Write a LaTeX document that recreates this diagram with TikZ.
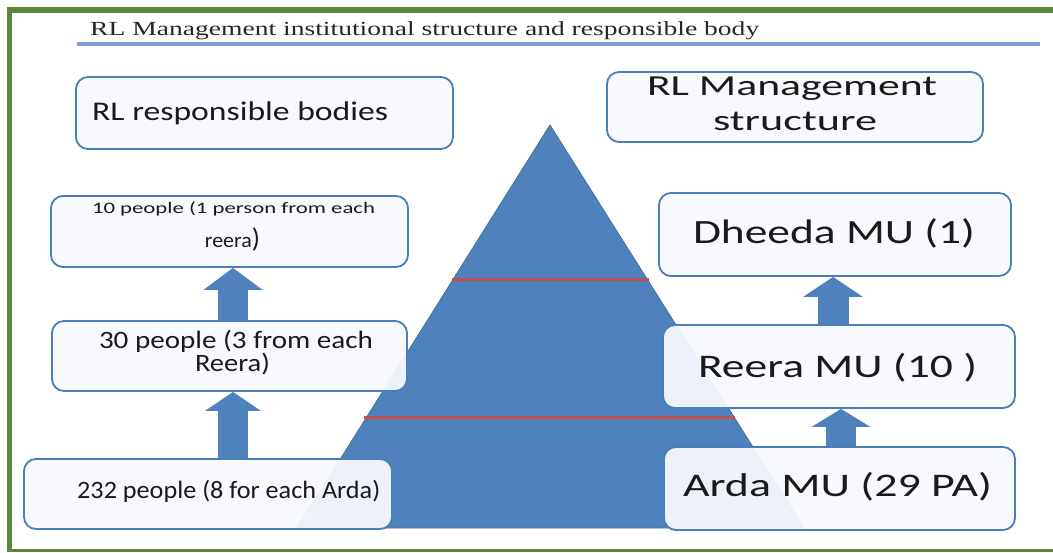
\documentclass[tikz,border=0pt]{standalone}
\usepackage{fontspec}
\usepackage{graphicx}
\usetikzlibrary{calc,arrows.meta}
\setmainfont{Liberation Serif}
\newfontfamily\boxfont{Carlito}
\definecolor{framegreen}{HTML}{578737}
\definecolor{titleline}{HTML}{7D9FD6}
\definecolor{pyrblue}{HTML}{4F81BD}
\definecolor{pyredge}{HTML}{41719C}
\definecolor{redline}{HTML}{C0504D}
\definecolor{boxedge}{HTML}{4A7EBB}
\definecolor{boxfill}{HTML}{F7F9FD}
\definecolor{txt}{HTML}{1A1A1A}
\newsavebox\fitbox
\newcommand\fitw[2]{\sbox\fitbox{#2}\pgfmathsetmacro\fitr{#1/\the\wd\fitbox}\scalebox{\fitr}[1]{\usebox\fitbox}}
\tikzset{
  rbox/.style={draw=boxedge, line width=1.8pt, rounded corners=12pt, fill=boxfill, fill opacity=0.94, inner sep=0pt},
  btext/.style={inner sep=0pt, text=txt, font=\boxfont},
  uparrow/.style={draw=pyrblue, line width=#1, line cap=butt},
}
\begin{document}
\begin{tikzpicture}[x=1pt,y=-1pt]
\useasboundingbox (0,0) rectangle (1053,552);
\fill[white] (0,0) rectangle (1053,552);
% frame
\fill[framegreen] (7,7) rectangle (1053,13);
\fill[framegreen] (7,7) rectangle (12,552);
\fill[framegreen] (7,549) rectangle (1053,552);
% title
\node[inner sep=0pt, anchor=base west, text=black!85] (title) at (90,35)
  {\fitw{669}{\fontsize{20}{20}\selectfont RL Management institutional structure and responsible body}};
\draw[titleline, line width=4.5pt] (77,44) coordinate (tl1) -- (1040,44) coordinate (tl2);
% pyramid
\coordinate (apex) at (550,125);
\coordinate (bl) at (297,528);
\coordinate (br) at (804,528);
\filldraw[fill=pyrblue, draw=pyredge, line width=0.8pt] (apex) -- (br) -- (bl) -- cycle;
\draw[redline, line width=3pt] (452,279) coordinate (r1a) -- (649,279) coordinate (r1b);
\draw[redline, line width=3pt] (364,417) coordinate (r2a) -- (735,417) coordinate (r2b);
% left boxes
\node[rbox, minimum width=377pt, minimum height=72pt] (b1) at (264.5,113) {};
\node[rbox, minimum width=357pt, minimum height=71pt] (b2) at (229.5,231.5) {};
\node[rbox, minimum width=355pt, minimum height=70pt] (b3) at (229.5,356) {};
\node[rbox, minimum width=368pt, minimum height=70pt] (b4) at (208,494) {};
% right boxes
\node[rbox, minimum width=376pt, minimum height=70pt] (r0) at (795,107) {};
\node[rbox, minimum width=352pt, minimum height=83pt] (r1) at (835,234.5) {};
\node[rbox, minimum width=352pt, minimum height=83pt] (r2) at (839,366.5) {};
\node[rbox, minimum width=351pt, minimum height=83pt] (r3) at (839.5,488.5) {};
% texts
\node[btext, anchor=base west] (b1t) at (92,120) {\fitw{296}{\fontsize{27}{27}\selectfont RL responsible bodies}};
\node[btext, anchor=base] (b2t1) at (233.5,213) {\fitw{283}{\fontsize{16}{16}\selectfont 10 people (1 person from each}};
\node[btext, anchor=base] (b2t2) at (232.5,247) {\fitw{47}{\fontsize{21}{21}\selectfont reera}{\fontsize{27}{27}\selectfont)}};
\node[btext, anchor=base] (b3t1) at (236,348) {\fitw{274}{\fontsize{25}{25}\selectfont 30 people (3 from each}};
\node[btext, anchor=base] (b3t2) at (232.5,371) {\fitw{75}{\fontsize{25}{25}\selectfont Reera)}};
\node[btext, anchor=base west] (b4t) at (77,498) {\fitw{303}{\fontsize{25}{25}\selectfont 232 people (8 for each Arda)}};
\node[btext, anchor=base] (r0t1) at (792,95) {\fitw{290}{\fontsize{29}{29}\selectfont RL Management}};
\node[btext, anchor=base] (r0t2) at (795,130) {\fitw{164}{\fontsize{29}{29}\selectfont structure}};
\node[btext, anchor=base] (r1t) at (834,243) {\fitw{282}{\fontsize{34}{34}\selectfont Dheeda MU (1)}};
\node[btext, anchor=base] (r2t) at (837.5,377) {\fitw{279}{\fontsize{33}{33}\selectfont Reera MU (10 )}};
\node[btext, anchor=base] (r3t) at (837.5,496) {\fitw{309}{\fontsize{33}{33}\selectfont Arda MU (29 PA)}};
% arrows
\coordinate (ax1) at (233,0);
\coordinate (ax2) at (233,0);
\coordinate (ax3) at (833,0);
\coordinate (ax4) at (841,0);
\draw[uparrow=30pt, -{Triangle[width=58pt,length=22pt]}, pyrblue] (b3.north -| ax1) -- (b2.south -| ax1);
\draw[uparrow=30pt, -{Triangle[width=55pt,length=19pt]}, pyrblue] (b4.north -| ax2) -- (b3.south -| ax2);
\draw[uparrow=31pt, -{Triangle[width=59pt,length=20pt]}, pyrblue] (r2.north -| ax3) -- (r1.south -| ax3);
\draw[uparrow=30pt, -{Triangle[width=58pt,length=18pt]}, pyrblue] (r3.north -| ax4) -- (r2.south -| ax4);
\end{tikzpicture}
\end{document}
